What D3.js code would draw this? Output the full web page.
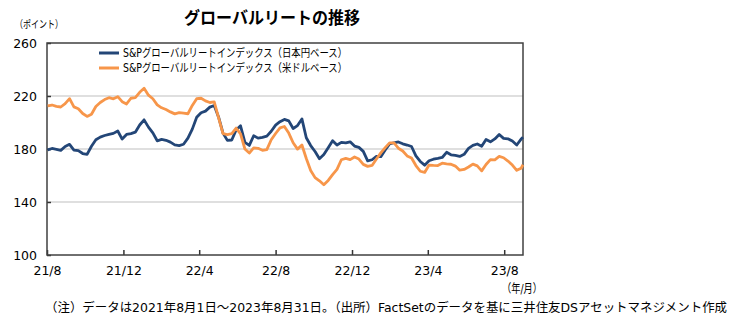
<!DOCTYPE html>
<html><head><meta charset="utf-8">
<script src="https://cdn.jsdelivr.net/npm/d3@7"></script>
<style>
html,body{margin:0;padding:0;background:#fff;}
svg{display:block;}
text{font-family:"DejaVu Sans","Noto Sans CJK JP",sans-serif;fill:#000;}
</style></head>
<body>
<svg id="chart" width="755" height="324"></svg>
<script>
const dates = [
"2021-08-02","2021-08-09","2021-08-16","2021-08-23","2021-08-30","2021-09-06","2021-09-13","2021-09-20","2021-09-27",
"2021-10-04","2021-10-11","2021-10-18","2021-10-25","2021-11-01","2021-11-08","2021-11-15","2021-11-22","2021-11-29",
"2021-12-06","2021-12-13","2021-12-20","2021-12-27","2022-01-03","2022-01-10","2022-01-17","2022-01-24","2022-01-31",
"2022-02-07","2022-02-14","2022-02-21","2022-02-28","2022-03-07","2022-03-14","2022-03-21","2022-03-28","2022-04-04",
"2022-04-11","2022-04-18","2022-04-25","2022-05-02","2022-05-09","2022-05-16","2022-05-23","2022-05-30","2022-06-06",
"2022-06-13","2022-06-20","2022-06-27","2022-07-04","2022-07-11","2022-07-18","2022-07-25","2022-08-01","2022-08-08",
"2022-08-15","2022-08-22","2022-08-29","2022-09-05","2022-09-12","2022-09-19","2022-09-26","2022-10-03","2022-10-10",
"2022-10-17","2022-10-24","2022-10-31","2022-11-07","2022-11-14","2022-11-21","2022-11-28","2022-12-05","2022-12-12",
"2022-12-19","2022-12-26","2023-01-02","2023-01-09","2023-01-16","2023-01-23","2023-01-30","2023-02-06","2023-02-13",
"2023-02-20","2023-02-27","2023-03-06","2023-03-13","2023-03-20","2023-03-27","2023-04-03","2023-04-10","2023-04-17",
"2023-04-24","2023-05-01","2023-05-08","2023-05-15","2023-05-22","2023-05-29","2023-06-05","2023-06-12","2023-06-19",
"2023-06-26","2023-07-03","2023-07-10","2023-07-17","2023-07-24","2023-07-31","2023-08-07","2023-08-14","2023-08-21",
"2023-08-28","2023-08-31"
];
const jpyValues = [
179.3,180.4,179.8,179.0,181.9,183.5,179.2,178.8,176.6,
176.0,182.1,187.0,189.0,190.2,191.1,191.8,193.6,187.5,
191.0,191.6,192.7,198.1,202.0,196.5,192.2,186.2,187.2,
186.6,185.2,183.1,182.6,183.6,188.2,195.0,203.9,207.4,
208.6,211.6,212.8,204.0,192.0,186.5,186.8,194.4,197.5,
185.0,182.7,190.0,188.2,188.8,189.7,193.4,198.0,200.6,
202.3,201.2,195.5,197.7,202.7,188.5,182.6,178.1,172.7,
175.8,181.0,186.3,183.0,185.0,184.6,185.4,182.2,181.2,
178.2,171.0,171.9,174.5,174.2,179.3,183.8,184.7,185.3,
183.9,183.0,181.9,174.8,170.6,167.8,171.1,172.3,172.9,
173.6,177.5,175.6,175.2,174.4,176.0,180.5,182.7,183.8,
182.0,187.2,185.4,187.6,191.0,188.0,187.7,186.0,183.0,
187.5,188.8
];
const usdValues = [
212.6,213.2,212.2,211.7,214.2,218.0,211.8,210.4,206.8,
204.6,206.2,212.1,215.1,217.3,218.7,217.9,219.5,215.7,
214.0,218.3,218.7,222.8,225.8,220.6,217.9,213.3,211.1,
209.8,208.0,206.5,207.4,207.0,206.6,212.9,218.0,218.3,
216.3,215.1,215.5,203.5,191.6,190.9,191.6,195.8,191.4,
180.0,177.0,180.8,180.5,179.0,179.5,187.0,191.7,196.0,
197.0,192.0,184.7,179.9,183.0,172.8,163.8,158.4,156.0,
153.0,156.3,160.7,164.6,171.9,172.9,172.0,174.0,172.4,
168.4,166.9,167.6,172.4,177.1,181.0,184.6,184.6,180.6,
178.5,174.8,173.2,167.5,163.2,162.3,167.9,167.6,167.5,
169.3,168.8,168.5,167.1,164.0,164.6,166.4,168.6,167.3,
163.5,168.3,172.0,171.8,174.4,173.4,170.9,167.9,163.9,
165.5,168.1
];
const seriesNames = ["S&Pグローバルリートインデックス（日本円ベース）","S&Pグローバルリートインデックス（米ドルベース）"];
const seriesColors = ["#234677","#F7964A"];
const yTicks = [100,140,180,220,260];
const xTickDates = ["2021-08-01","2021-12-01","2022-04-01","2022-08-01","2022-12-01","2023-04-01","2023-08-01"];
const xTickLabels = ["21/8","21/12","22/4","22/8","22/12","23/4","23/8"];
const titleText = "グローバルリートの推移";
const yUnit = "（ポイント）";
const xUnit = "（年/月）";
const noteText = "（注）データは2021年8月1日～2023年8月31日。（出所）FactSetのデータを基に三井住友DSアセットマネジメント作成";

const parse = d3.timeParse("%Y-%m-%d");
const svg = d3.select("#chart");
const L = 47, R = 523, T = 43, B = 255;
const x = d3.scaleTime().domain([parse("2021-08-01"), parse("2023-08-31")]).range([L, R]);
const y = d3.scaleLinear().domain([100, 260]).range([B, T]);

// gridlines
svg.append("g").selectAll("line").data(yTicks.filter(v => v > 100 && v < 260)).join("line")
  .attr("x1", L).attr("x2", R).attr("y1", d => y(d)).attr("y2", d => y(d))
  .attr("stroke", "#BFBFBF").attr("stroke-width", 1.2);

// axes
const yAxis = d3.axisLeft(y).tickValues(yTicks).tickSize(-4).tickPadding(10).tickFormat(d3.format("d"));
const gy = svg.append("g").attr("transform", `translate(${L},0)`).call(yAxis);
gy.select(".domain").remove();
gy.selectAll(".tick line").attr("stroke", "#333").attr("stroke-width", 1.5);
gy.selectAll(".tick text").attr("font-size", 12.5).attr("fill", "#000")
  .attr("font-family", "DejaVu Sans, sans-serif");

const xAxis = d3.axisBottom(x).tickValues(xTickDates.map(parse)).tickSize(-5).tickPadding(11)
  .tickFormat((d, i) => xTickLabels[i]);
const gx = svg.append("g").attr("transform", `translate(0,${B})`).call(xAxis);
gx.select(".domain").remove();
gx.selectAll(".tick line").attr("stroke", "#333").attr("stroke-width", 1.5);
gx.selectAll(".tick text").attr("font-size", 12.5).attr("fill", "#000")
  .attr("font-family", "DejaVu Sans, sans-serif");

// frame
svg.append("rect").attr("x", L).attr("y", T).attr("width", R - L).attr("height", B - T)
  .attr("fill", "none").attr("stroke", "#404040").attr("stroke-width", 1.5);

// lines
const line = d3.line().x(d => x(d.date)).y(d => y(d.v)).curve(d3.curveLinear);
const series = [jpyValues, usdValues].map((vals, s) => ({
  name: seriesNames[s], color: seriesColors[s],
  pts: dates.map((d, i) => ({date: parse(d), v: vals[i]}))
}));
svg.append("g").selectAll("path").data(series).join("path")
  .attr("d", d => line(d.pts)).attr("fill", "none")
  .attr("stroke", d => d.color).attr("stroke-width", 2.8).attr("stroke-linejoin", "round");

// legend
const lg = svg.append("g").selectAll("g").data(series).join("g")
  .attr("transform", (d, i) => `translate(99,${53 + i * 15})`);
lg.append("line").attr("x1", 0).attr("x2", 20).attr("y1", 0).attr("y2", 0)
  .attr("stroke", d => d.color).attr("stroke-width", 3);
lg.append("text").attr("x", 24).attr("y", 4).attr("font-size", 11.5)
  .attr("textLength", 224).attr("lengthAdjust", "spacingAndGlyphs").text(d => d.name);

// texts
svg.append("text").attr("x", 272).attr("y", 24).attr("text-anchor", "middle")
  .attr("font-size", 17).attr("font-weight", "bold")
  .attr("textLength", 176).attr("lengthAdjust", "spacingAndGlyphs").text(titleText);
svg.append("text").attr("x", 15).attr("y", 28).attr("font-size", 10.5)
  .attr("textLength", 48).attr("lengthAdjust", "spacingAndGlyphs").text(yUnit);
svg.append("text").attr("x", 522).attr("y", 293).attr("text-anchor", "middle")
  .attr("font-size", 12).attr("textLength", 40).attr("lengthAdjust", "spacingAndGlyphs").text(xUnit);
const note = svg.append("text").attr("x", 45).attr("y", 312).attr("font-size", 13).text(noteText);
const nw = note.node().getComputedTextLength();
note.attr("font-size", 13 * 683 / nw);
</script>
</body></html>
